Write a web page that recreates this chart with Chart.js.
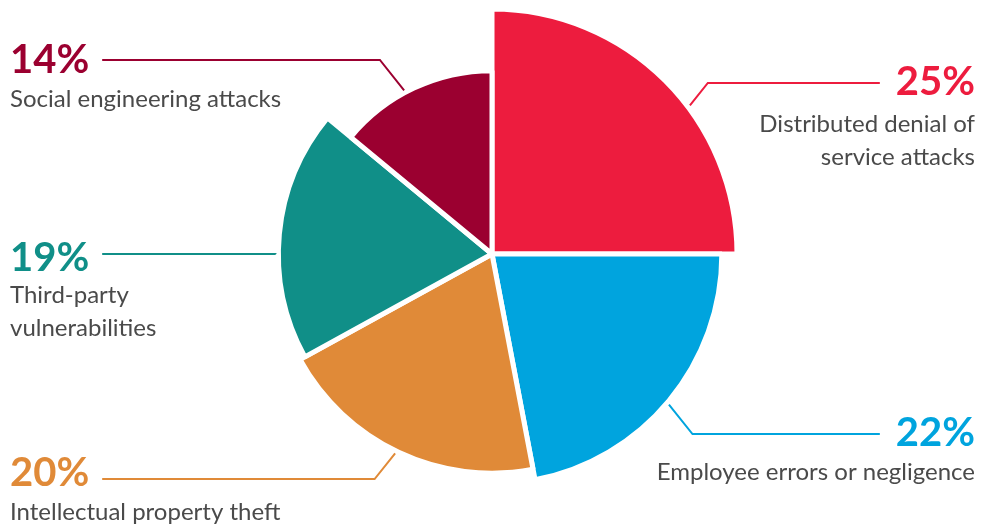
<!DOCTYPE html>
<html>
<head>
<meta charset="utf-8">
<script src="https://cdn.jsdelivr.net/npm/chart.js@4/dist/chart.umd.min.js"></script>
<style>
  html, body { margin: 0; padding: 0; background: #ffffff; }
  #wrap { width: 981px; height: 527px; }
</style>
</head>
<body>
<div id="wrap"><canvas id="chart" width="981" height="527"></canvas></div>
<script>
// Share of cyber incidents by type (percent), clockwise from 12 o'clock
const categories = [
  'Distributed denial of service attacks',
  'Employee errors or negligence',
  'Intellectual property theft',
  'Third-party vulnerabilities',
  'Social engineering attacks'
];
const shares = [25, 22, 20, 19, 14];
const captionLines = [
  ['Distributed denial of', 'service attacks'],
  ['Employee errors or negligence'],
  ['Intellectual property theft'],
  ['Third-party', 'vulnerabilities'],
  ['Social engineering attacks']
];
const sliceColors = ['#ed1c3e', '#00a4de', '#e08a38', '#108f88', '#9b0030'];

// Callout placement: side of the chart, leader line height, text baselines,
// and where along the slice the leader starts (fraction of its sweep).
const callouts = [
  { side: 'right', lineY: 83,  pctBase: 95,  textBase: [132, 165], frac: 0.59 },
  { side: 'right', lineY: 434, pctBase: 446, textBase: [480],      frac: 0.51 },
  { side: 'left',  lineY: 479, pctBase: 486, textBase: [520],      frac: 0.51 },
  { side: 'left',  lineY: 254, pctBase: 271, textBase: [303, 336], frac: 0.42 },
  { side: 'left',  lineY: 60,  pctBase: 73,  textBase: [107],      frac: 0.44 }
];

const PCT_FONT = '700 40px Lato';
const TEXT_FONT = '400 24px Lato';
const TEXT_COLOR = '#4a4a4a';
const LEFT_X = 10, RIGHT_X = 975;

const calloutPlugin = {
  id: 'callouts',
  afterDatasetsDraw(chart) {
    const ctx = chart.ctx;
    const arcs = chart.getDatasetMeta(0).data;
    ctx.save();
    arcs.forEach((arc, i) => {
      const c = callouts[i];
      const color = sliceColors[i];
      const { x, y, startAngle, endAngle, outerRadius } = arc.getProps(['x', 'y', 'startAngle', 'endAngle', 'outerRadius'], true);
      const a = startAngle + c.frac * (endAngle - startAngle);
      const r = outerRadius - 2.5 + 5;
      const sx = x + Math.cos(a) * r;
      const sy = y + Math.sin(a) * r;
      const dir = c.side === 'right' ? 1 : -1;
      const ex = sx + dir * Math.abs(c.lineY - sy) * 0.8;

      const pct = shares[i] + '%';
      ctx.font = PCT_FONT;
      const pw = ctx.measureText(pct).width;
      const lineEnd = c.side === 'right' ? RIGHT_X - pw - 16 : LEFT_X + pw + 13;

      ctx.strokeStyle = color;
      ctx.lineWidth = 2;
      ctx.lineJoin = 'miter';
      ctx.beginPath();
      ctx.moveTo(sx, sy);
      ctx.lineTo(ex, c.lineY);
      ctx.lineTo(lineEnd, c.lineY);
      ctx.stroke();

      ctx.fillStyle = color;
      ctx.textBaseline = 'alphabetic';
      ctx.textAlign = c.side === 'right' ? 'right' : 'left';
      const tx = c.side === 'right' ? RIGHT_X : LEFT_X;
      ctx.fillText(pct, tx, c.pctBase);

      ctx.font = TEXT_FONT;
      ctx.fillStyle = TEXT_COLOR;
      captionLines[i].forEach((line, k) => ctx.fillText(line, tx, c.textBase[k]));
    });
    ctx.restore();
  }
};

new Chart(document.getElementById('chart'), {
  type: 'polarArea',
  data: {
    labels: categories,
    datasets: [{
      // slice radius grows with the square root of the share, sweep with the share
      data: shares.map(v => Math.sqrt(v)),
      angle: ctx => shares[ctx.dataIndex] * 3.6,
      backgroundColor: sliceColors,
      borderColor: '#ffffff',
      borderWidth: 5
    }]
  },
  options: {
    responsive: false,
    devicePixelRatio: 1,
    animation: false,
    events: [],
    layout: { padding: { top: 9, bottom: 27, left: 245, right: 242 } },
    scales: {
      r: {
        display: false,
        min: 0,
        max: Math.sqrt(Math.max(...shares))
      }
    },
    plugins: {
      legend: { display: false },
      tooltip: { enabled: false }
    }
  },
  plugins: [calloutPlugin]
});
</script>
</body>
</html>
